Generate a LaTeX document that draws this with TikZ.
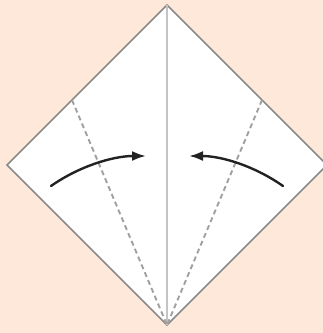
\documentclass[tikz,border=0pt]{standalone}
\usetikzlibrary{arrows.meta}
\definecolor{bgpeach}{HTML}{FDE8DA}
\definecolor{edgegray}{HTML}{8A8A8A}
\definecolor{creasegray}{HTML}{C4C4C4}
\definecolor{dashgray}{HTML}{A0A0A0}
\definecolor{arrowblk}{HTML}{222222}
\begin{document}
\begin{tikzpicture}[x=1pt,y=-1pt,
  paper/.style={fill=white,draw=edgegray,line width=1.7pt,line join=miter},
  crease/.style={draw=creasegray,line width=1.8pt},
  valley/.style={draw=dashgray,line width=1.9pt,dash pattern=on 5pt off 3.5pt},
  foldarrow/.style={draw=arrowblk,line width=2.4pt,line cap=round,-{Latex[length=14pt,width=10pt]}}]
  \fill[bgpeach] (0,0) rectangle (323,333);
  \useasboundingbox (0,0) rectangle (323,333);
  \coordinate (T) at (167,5);
  \coordinate (L) at (7,165);
  \coordinate (R) at (327,165);
  \coordinate (B) at (167,325);
  \coordinate (PL) at (72,100);
  \coordinate (PR) at (262,100);
  \coordinate (AL1) at (51,186);
  \coordinate (AL2) at (146,156);
  \coordinate (AR1) at (283,186);
  \coordinate (AR2) at (189,156);
  \path[paper] (T) -- (R) -- (B) -- (L) -- cycle;
  \draw[crease] (T) -- (B);
  \draw[valley] (PL) -- (B);
  \draw[valley] (PR) -- (B);
  \draw[foldarrow] (AL1) .. controls (78,167) and (112,156) .. (AL2);
  \draw[foldarrow] (AR1) .. controls (256,167) and (223,156) .. (AR2);
\end{tikzpicture}
\end{document}
